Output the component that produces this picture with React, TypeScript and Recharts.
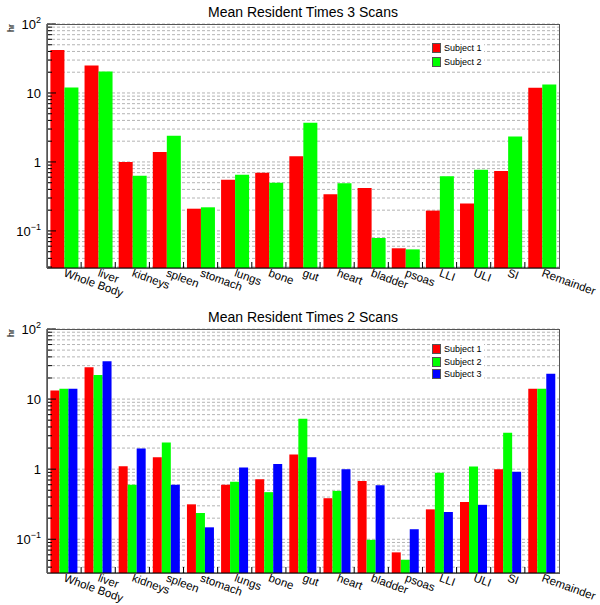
import React from "react"
import { BarChart, Bar, XAxis, YAxis, CartesianGrid, Legend } from "recharts"

const organs = [
  "Whole Body", "liver", "kidneys", "spleen", "stomach", "lungs", "bone", "gut",
  "heart", "bladder", "psoas", "LLI", "ULI", "SI", "Remainder",
]

// 3 scans
const scan3Subject1 = [42, 25, 1.0, 1.39, 0.21, 0.55, 0.7, 1.21, 0.34, 0.42, 0.056, 0.197, 0.25, 0.74, 11.9]
const scan3Subject2 = [12, 20.5, 0.63, 2.4, 0.22, 0.65, 0.5, 3.7, 0.49, 0.079, 0.054, 0.62, 0.77, 2.34, 13.3]

// 2 scans
const scan2Subject1 = [13.3, 28.5, 1.1, 1.48, 0.315, 0.6, 0.72, 1.62, 0.385, 0.68, 0.065, 0.267, 0.34, 1.0, 14.1]
const scan2Subject2 = [14.1, 22, 0.6, 2.4, 0.237, 0.66, 0.47, 5.25, 0.49, 0.098, 0.051, 0.89, 1.09, 3.3, 14.1]
const scan2Subject3 = [14.1, 34.7, 1.97, 0.6, 0.148, 1.06, 1.19, 1.48, 1.0, 0.59, 0.139, 0.245, 0.31, 0.92, 23]

const majorTicks = [0.1, 1, 10, 100]
const majorBase = ["10", "1", "10", "10"]
const majorExp = ["\u22121", "", "", "2"]
const minorTicks = [
  0.03, 0.04, 0.05, 0.06, 0.07, 0.08, 0.09,
  0.2, 0.3, 0.4, 0.5, 0.6, 0.7, 0.8, 0.9,
  2, 3, 4, 5, 6, 7, 8, 9,
  20, 30, 40, 50, 60, 70, 80, 90,
]

const data3 = organs.map((organ, i) => ({ organ, s1: scan3Subject1[i], s2: scan3Subject2[i] }))
const data2 = organs.map((organ, i) => ({ organ, s1: scan2Subject1[i], s2: scan2Subject2[i], s3: scan2Subject3[i] }))

const font = "'Liberation Sans', Arial, Helvetica, sans-serif"
const plotLeft = 47
const plotWidth = 512
const plotHeight = 244

function YTick(props: any) {
  const { x, y, payload } = props
  const idx = majorTicks.indexOf(payload.value)
  const major = idx >= 0
  return (
    <g>
      <line x1={x} x2={x + (major ? 9 : 5)} y1={y} y2={y} stroke="#000" strokeWidth={1} />
      {major && (
        <text x={x - 6} y={y + 4.6} textAnchor="end" fontSize={13} fontFamily={font} fill="#000">
          {majorBase[idx]}
          {majorExp[idx] && (
            <tspan dy={-6} fontSize={9}>
              {majorExp[idx]}
            </tspan>
          )}
        </text>
      )}
    </g>
  )
}

function XTick(props: any) {
  const { x, y, payload, index } = props
  const band = plotWidth / organs.length
  const left = x - band / 2
  const tx = x - 1
  const ty = y + 8
  return (
    <g>
      {index > 0 && <line x1={left} x2={left} y1={y} y2={y - 6} stroke="#000" />}
      <text x={tx} y={ty} transform={`rotate(20, ${tx}, ${ty})`} fontSize={11.5} fontFamily={font} fill="#000">
        {payload.value}
      </text>
    </g>
  )
}

function LegendBox(rowHeight: number) {
  return (props: any) => {
    const { payload } = props
    return (
      <div style={{ background: "#fff", fontFamily: font, fontSize: 9, color: "#000", padding: "0 2px 0 1px" }}>
        {payload.map((p: any) => (
          <div key={p.value} style={{ display: "flex", alignItems: "center", height: rowHeight }}>
            <span
              style={{
                display: "inline-block",
                width: 9,
                height: 10,
                background: p.color,
                border: "1px solid #555",
                boxSizing: "border-box",
                marginRight: 3,
              }}
            />
            {p.value}
          </div>
        ))}
      </div>
    )
  }
}

function Panel(props: { title: string; top: number; height: number; data: any[]; n: number; domainMin: number; legendTop: number; rowHeight: number }) {
  const { title, top, height, data, n, domainMin, legendTop, rowHeight } = props
  const plotTop = height - 32 - plotHeight
  const ticks = [...minorTicks, ...majorTicks].filter((t) => t >= domainMin).sort((a, b) => a - b)
  return (
    <div style={{ position: "absolute", left: 0, top, width: 600, height }}>
      <div
        style={{
          position: "absolute",
          left: 0,
          width: 606,
          top: plotTop - 19,
          textAlign: "center",
          fontFamily: font,
          fontSize: 14,
          lineHeight: "14px",
        }}
      >
        {title}
      </div>
      <div
        style={{
          position: "absolute",
          left: 5,
          top: plotTop - 1,
          width: 12,
          height: 10,
          fontFamily: font,
          fontSize: 9,
          lineHeight: "10px",
          transform: "rotate(-90deg)",
          textAlign: "center",
        }}
      >
        hr
      </div>
      <div style={{ position: "absolute", left: 0, top: 0 }}>
        <BarChart
          width={600}
          height={height}
          data={data}
          margin={{ top: plotTop, right: 600 - plotLeft - plotWidth, left: 0, bottom: 0 }}
          barCategoryGap="10%"
          barGap={0}
        >
          <CartesianGrid vertical={false} stroke="#b4b4b4" strokeDasharray="3 2" />
          <XAxis
            dataKey="organ"
            height={32}
            interval={0}
            tickSize={0}
            tickMargin={0}
            tick={<XTick />}
            tickLine={false}
            axisLine={{ stroke: "#000" }}
          />
          <YAxis
            scale="log"
            domain={[domainMin, 100]}
            allowDataOverflow
            ticks={ticks}
            interval={0}
            width={plotLeft}
            tickSize={0}
            tickMargin={0}
            tick={<YTick />}
            tickLine={false}
            axisLine={{ stroke: "#000" }}
          />
          <Legend
            layout="horizontal"
            verticalAlign="middle"
            align="center"
            content={LegendBox(rowHeight)}
            wrapperStyle={{ left: 431, top: legendTop, width: "auto", height: "auto" }}
          />
          <Bar dataKey="s1" name="Subject 1" fill="#ff0000" isAnimationActive={false} />
          <Bar dataKey="s2" name="Subject 2" fill="#00ff00" isAnimationActive={false} />
          {n > 2 && <Bar dataKey="s3" name="Subject 3" fill="#0000ff" isAnimationActive={false} />}
        </BarChart>
      </div>
      <div
        style={{
          position: "absolute",
          left: plotLeft,
          top: plotTop,
          width: plotWidth + 1,
          height: plotHeight + 1,
          border: "1px solid #555",
          boxSizing: "border-box",
          pointerEvents: "none",
        }}
      />
    </div>
  )
}

export default function App() {
  return (
    <div style={{ position: "absolute", left: 0, top: 0, width: 600, height: 605, background: "#fff" }}>
      <style>{"svg.recharts-surface { overflow: visible; }"}</style>
      <Panel title="Mean Resident Times 3 Scans" top={0} height={300} data={data3} n={2} domainMin={0.029} legendTop={41} rowHeight={14} />
      <Panel title="Mean Resident Times 2 Scans" top={300} height={305} data={data2} n={3} domainMin={0.033} legendTop={43} rowHeight={12.5} />
    </div>
  )
}
